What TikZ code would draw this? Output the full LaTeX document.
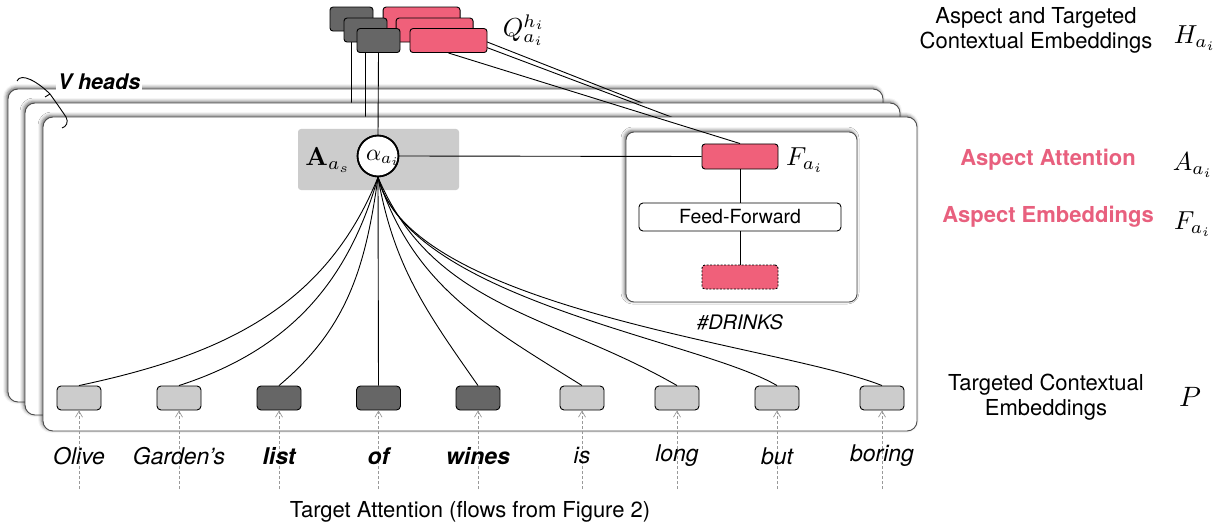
\documentclass[tikz,border=0pt]{standalone}
\usepackage{graphicx}
\usepackage[no-math]{fontspec}
\setmainfont{TeX Gyre Heros}
\usetikzlibrary{shadows.blur,arrows.meta}
\definecolor{pinkbox}{RGB}{240,96,122}
\definecolor{pinktext}{RGB}{232,96,126}
\definecolor{darkbox}{RGB}{102,102,102}
\definecolor{lightbox}{RGB}{204,204,204}
\newcommand{\bigmath}[2]{\scalebox{#1}{\fontsize{10}{12}\selectfont$#2$}}
\begin{document}
\begin{tikzpicture}[x=1pt,y=-1pt,
  frame/.style={draw=black!70, line width=0.9pt, fill=white, rounded corners=10pt, inner sep=0pt,
    blur shadow={shadow xshift=-1.5pt, shadow yshift=1.5pt, shadow blur radius=3.5pt, shadow opacity=60}},
  dbox/.style={draw=black, line width=0.9pt, fill=darkbox, rounded corners=3pt, minimum width=43pt, minimum height=24pt, inner sep=0pt},
  pbox/.style={draw=black, line width=0.9pt, fill=pinkbox, rounded corners=3pt, minimum width=77pt, minimum height=24pt, inner sep=0pt},
  tok/.style={draw=black, line width=0.9pt, rounded corners=4pt, minimum width=44pt, minimum height=24pt, inner sep=0pt},
  conn/.style={line width=0.9pt},
  darrow/.style={draw=black!40, dash pattern=on 3pt off 2pt, line width=0.7pt, -{Straight Barb[length=6pt,width=7pt]}},
  txt/.style={font=\fontsize{22}{25}\selectfont, inner sep=0pt},
  word/.style={font=\fontsize{23}{26}\selectfont\itshape, inner sep=0pt},
  bword/.style={font=\fontsize{23}{26}\selectfont\bfseries\itshape, inner sep=0pt},
  mlab/.style={inner sep=0pt},
  pinklab/.style={font=\fontsize{22}{25}\selectfont\bfseries, text=pinktext, inner sep=0pt}
]
\useasboundingbox (0,0) rectangle (1226,524);

% anchor points of the top Q boxes (boxes are drawn last, on top)
\coordinate (d1s) at (351.5,31.5);
\coordinate (d2s) at (365.5,42.5);
\coordinate (d3s) at (378.5,53);
\coordinate (p1s) at (460.5,31.5);
\coordinate (p2s) at (473.5,42.5);
\coordinate (p3s) at (448.5,53);

% stacked frames
\node[frame, minimum width=875pt, minimum height=313pt] (fr1) at (445.5,245.5) {};
\node[font=\fontsize{21.5}{24}\selectfont\bfseries\itshape, fill=white, inner sep=2pt] (vh) at (99,82) {V heads};
\coordinate (e1) at (650,106);
\draw[conn] (d1s) -- (d1s |- 0,106);
\draw[conn] (p1s) -- (e1);
\node[frame, minimum width=875pt, minimum height=312pt] (fr2) at (462.5,259) {};
\coordinate (e2) at (682,121);
\draw[conn] (d2s) -- (d2s |- 0,121);
\draw[conn] (p2s) -- (e2);
\node[frame, minimum width=874pt, minimum height=314pt] (fr3) at (480,274) {};

% attention block
\node[fill=lightbox, rounded corners=3pt, minimum width=161pt, minimum height=61pt, inner sep=0pt] (attn) at (378.5,159.5) {};
\node[mlab] (As) at (328,160) {\bigmath{2.6}{\mathbf{A}_{a_s}}};
\node[circle, draw, line width=1.6pt, fill=white, minimum size=41pt, inner sep=0pt] (alpha) at (378,156) {};
\node[mlab] (alab) at (383,158) {\bigmath{2.35}{\alpha_{a_i}}};
\draw[line width=1.6pt] (alpha.center) circle[radius=20.5pt];

% aspect box
\node[frame, rounded corners=8pt, minimum width=231pt, minimum height=170pt] (drinks) at (741.5,217) {};
\node[pbox, minimum width=76pt, minimum height=25pt] (F) at (740,156.5) {};
\node[mlab, anchor=west] (Flab) at (786,160) {\bigmath{2.6}{F_{a_i}}};
\node[draw, line width=0.9pt, rounded corners=4pt, fill=white, minimum width=202pt, minimum height=28pt, inner sep=0pt, font=\fontsize{19.5}{22}\selectfont] (ff) at (740,217) {Feed-Forward};
\node[pbox, dash pattern=on 2pt off 1.5pt, minimum width=76pt] (emb) at (740,277) {};
\node[inner sep=0pt, font=\fontsize{20}{23}\selectfont\itshape] (dr) at (740,322) {\#DRINKS};
\draw[conn] (alpha.east) -- (F.west);
\draw[conn] (F.south) -- (ff.north);
\draw[conn] (ff.south) -- (emb.north);
\draw[conn] (d3s) -- (alpha.north);
\draw[conn] (p3s) -- (F.north);

% tokens
\node[tok, fill=lightbox] (t1) at (79,398) {};
\node[tok, fill=lightbox] (t2) at (179,398) {};
\node[tok, fill=darkbox] (t3) at (279,398) {};
\node[tok, fill=darkbox] (t4) at (378.5,398) {};
\node[tok, fill=darkbox] (t5) at (478,398) {};
\node[tok, fill=lightbox] (t6) at (582,398) {};
\node[tok, fill=lightbox] (t7) at (677,398) {};
\node[tok, fill=lightbox] (t8) at (777,398) {};
\node[tok, fill=lightbox] (t9) at (882,398) {};

\draw[conn] (alpha.south) to[out=-112,in=12] (t1.north);
\draw[conn] (alpha.south) to[out=-106,in=18] (t2.north);
\draw[conn] (alpha.south) to[out=-98,in=40] (t3.north);
\draw[conn] (alpha.south) -- (t4.north);
\draw[conn] (alpha.south) to[out=-80,in=125] (t5.north);
\draw[conn] (alpha.south) to[out=-72,in=148] (t6.north);
\draw[conn] (alpha.south) to[out=-67,in=150] (t7.north);
\draw[conn] (alpha.south) .. controls (410,300) and (700,340) .. (t8.north);
\draw[conn] (alpha.south) .. controls (410,310) and (780,345) .. (t9.north);

% dashed input arrows
\foreach \i/\x in {1/79,2/179,3/279,4/378.5,5/478,6/582,7/677,8/777,9/882}{
  \coordinate (a\i) at (\x,489);
  \draw[darrow] (a\i) -- (t\i.south);
}
% words
\node[word] (w1) at (79,456) {Olive};
\node[word] (w2) at (179,456) {Garden’s};
\node[bword] (w3) at (279,456) {list};
\node[bword] (w4) at (378.5,456) {of};
\node[bword] (w5) at (478,456) {wines};
\node[word] (w6) at (582,456) {is};
\node[word] (w7) at (677,456) {long};
\node[word] (w8) at (777,456) {but};
\node[word] (w9) at (882,456) {boring};
\node[txt] (ta) at (470,512) {Target Attention (flows from Figure 2)};

% brace for V heads
\draw[line width=0.9pt] (17,81) .. controls (21,72) and (38,82) .. (50,94)
  .. controls (55,101) and (60,108) .. (66,117) .. controls (69,122) and (66,127) .. (62,128);
\draw[line width=0.9pt] (50,94) -- (45,97);

% top Q boxes
\node[dbox, anchor=south] (d1) at (d1s) {};
\node[pbox, anchor=south east] (p1) at (p1s) {};
\node[dbox, anchor=south] (d2) at (d2s) {};
\node[pbox, anchor=south east] (p2) at (p2s) {};
\node[dbox, anchor=south] (d3) at (d3s) {};
\node[pbox, anchor=south] (p3) at (p3s) {};
\node[mlab] (Q) at (524,30) {\bigmath{2.6}{Q_{a_i}^{h_i}}};

% right-hand labels
\node[txt, align=center] (hlab) at (1036,30) {Aspect and Targeted\\Contextual Embeddings};
\node[mlab] (Hm) at (1195,38) {\bigmath{2.6}{H_{a_i}}};
\node[pinklab] (aal) at (1048,160) {Aspect Attention};
\node[mlab] (Am) at (1193,165) {\bigmath{2.6}{A_{a_i}}};
\node[pinklab] (ael) at (1048,217) {Aspect Embeddings};
\node[mlab] (Fm) at (1193,224) {\bigmath{2.6}{F_{a_i}}};
\node[txt, align=center] (tce) at (1046,397) {Targeted Contextual\\Embeddings};
\node[mlab] (Pm) at (1190,397) {\bigmath{2.8}{P}};
\end{tikzpicture}
\end{document}
